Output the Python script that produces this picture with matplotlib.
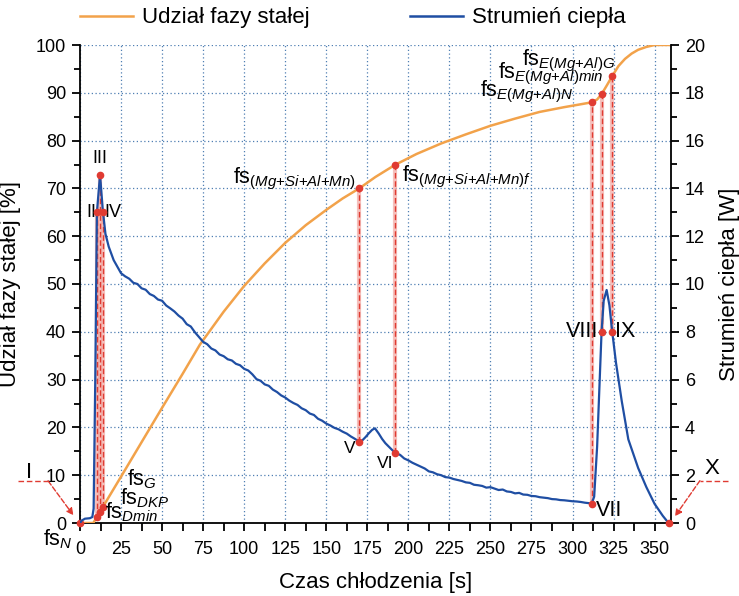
import matplotlib
matplotlib.use("Agg")
import matplotlib.pyplot as plt
from matplotlib.ticker import MultipleLocator
from matplotlib.lines import Line2D

plt.rcParams['font.family'] = ['Liberation Sans', 'DejaVu Sans']
plt.rcParams['mathtext.fontset'] = 'custom'
plt.rcParams['mathtext.rm'] = 'Liberation Sans'
plt.rcParams['mathtext.it'] = 'Liberation Sans:italic'
plt.rcParams['mathtext.sf'] = 'Liberation Sans'

# solid fraction [%] vs cooling time [s]
fs_time = [0, 8.1, 10.3, 12.2, 14.0, 25, 37.5, 50, 62.5, 73, 87.5, 100, 112.5,
           125, 137.5, 150, 160, 170.1, 180, 191.8, 205, 220, 235, 250, 265,
           280, 295, 305, 311.6, 315, 317.7, 321, 324.2, 328, 332, 336, 340,
           345, 350, 360]
fs_pct = [0, 0, 1.3, 2.4, 3.4, 9.7, 16.9, 24.1, 31.2, 37.3, 44.2, 49.6, 54.3,
          58.6, 62.3, 65.5, 67.9, 70.0, 72.4, 74.9, 77.2, 79.4, 81.3, 83.1, 84.6,
          86.0, 87.0, 87.6, 88.0, 88.6, 89.7, 91.6, 93.5, 95.6, 97.1, 98.2, 99.0,
          99.6, 100, 100]

# heat flow [W] vs cooling time [s]
flow_time = [0, 1, 3, 6, 7.5, 8.3, 9.3, 10.3, 12.2, 14.0, 15.5, 17.5, 20.5,
             25, 27.5, 30, 32.5, 35, 37.5, 40, 42.5, 45, 47.5, 50, 52.5, 55, 57.5,
             60, 62.5, 65, 67.5, 70, 72.5, 75, 77.5, 80, 82.5, 85, 87.5, 90, 92.5,
             95, 97.5, 100, 102.5, 105, 107.5, 110, 112.5, 115, 117.5, 120, 122.5,
             125, 127.5, 130, 132.5, 135, 137.5, 140, 142.5, 145, 147.5, 150,
             152.5, 155, 157.5, 160, 162.5, 165, 167.5, 170.1, 172, 174, 176, 178,
             179.7, 182, 184, 186, 188, 190, 191.8, 195, 197.5, 200, 202.5, 205,
             207.5, 210, 212.5, 215, 217.5, 220, 222.5, 225, 227.5, 230, 232.5,
             235, 237.5, 240, 242.5, 245, 247.5, 250, 252.5, 255, 257.5, 260,
             262.5, 265, 267.5, 270, 272.5, 275, 277.5, 280, 282.5, 285, 287.5,
             290, 292.5, 295, 297.5, 300, 302.5, 305, 307.5, 310, 311.6, 313.2,
             315, 316.5, 317.7, 319, 320.8, 322.5, 324.2, 326.5, 330, 334, 340,
             345, 350, 355, 358.5]
flow_w = [0, 0.1, 0.18, 0.2, 0.25, 0.6, 6.0, 13.0, 14.56, 13.0, 12.1, 11.56, 11.0,
          10.45, 10.32, 10.22, 10.05, 10.0, 9.82, 9.76, 9.58, 9.5, 9.35, 9.3, 9.1,
          8.98, 8.85, 8.68, 8.55, 8.32, 8.22, 7.98, 7.78, 7.58, 7.48, 7.3, 7.22,
          7.05, 6.98, 6.85, 6.8, 6.66, 6.6, 6.45, 6.38, 6.22, 6.02, 5.95, 5.8,
          5.74, 5.58, 5.48, 5.34, 5.25, 5.12, 5.02, 4.94, 4.8, 4.72, 4.58, 4.52,
          4.36, 4.28, 4.16, 4.08, 3.98, 3.92, 3.82, 3.74, 3.62, 3.52, 3.4, 3.46,
          3.6, 3.76, 3.9, 3.96, 3.74, 3.52, 3.34, 3.2, 3.06, 2.94, 2.85, 2.7,
          2.62, 2.52, 2.44, 2.36, 2.28, 2.16, 2.12, 2.04, 2.0, 1.92, 1.9, 1.84,
          1.8, 1.76, 1.7, 1.68, 1.6, 1.58, 1.55, 1.48, 1.5, 1.44, 1.38, 1.4,
          1.32, 1.3, 1.24, 1.26, 1.19, 1.18, 1.13, 1.12, 1.08, 1.06, 1.04, 1.0,
          0.99, 0.96, 0.95, 0.93, 0.91, 0.9, 0.88, 0.85, 0.83, 0.8, 1.1, 3.2,
          5.9, 8.0, 9.3, 9.75, 9.1, 8.0, 6.7, 5.1, 3.5, 2.3, 1.5, 0.8, 0.3, 0.0]

# characteristic points: heat-flow point and matching solid fraction
pt_names = ['II', 'III', 'IV', 'V', 'VI', 'VII', 'VIII', 'IX']
pt_time = [10.3, 12.2, 14.0, 170.1, 191.8, 311.6, 317.7, 324.2]
pt_flow = [13.0, 14.56, 13.0, 3.4, 2.94, 0.8, 8.0, 8.0]
pt_fs = [1.3, 2.4, 3.4, 70.0, 74.9, 88.0, 89.7, 93.5]

fs_labels = [r'$\mathrm{fs}_{\mathit{N}}$', r'$\mathrm{fs}_{\mathit{Dmin}}$',
             r'$\mathrm{fs}_{\mathit{DKP}}$', r'$\mathrm{fs}_{\mathit{G}}$',
             r'$\mathrm{fs}_{\mathit{(Mg{+}Si{+}Al{+}Mn)}}$',
             r'$\mathrm{fs}_{\mathit{(Mg{+}Si{+}Al{+}Mn)f}}$',
             r'$\mathrm{fs}_{\mathit{E(Mg{+}Al)N}}$',
             r'$\mathrm{fs}_{\mathit{E(Mg{+}Al)min}}$',
             r'$\mathrm{fs}_{\mathit{E(Mg{+}Al)G}}$']

ORANGE = '#f2a24a'
BLUE = '#1f4ea3'
RED = '#e03b32'
PINK = '#f2a6a0'
GRID = '#4f7fb3'
W2PCT = 100 / 20  # right axis 0-20 W against left axis 0-100 %

fig = plt.figure(figsize=(7.39, 5.96), dpi=100)
ax = fig.add_axes([80 / 739, 1 - 523 / 596, (671 - 80) / 739, (523 - 45) / 596])
ax2 = ax.twinx()

ax.set_xlim(0, 360)
ax.set_ylim(0, 100)
ax2.set_ylim(0, 20)

ax.grid(True, which='major', color=GRID, linestyle=(0, (1, 2)), linewidth=0.9)
ax.set_axisbelow(True)

# dashed verticals linking heat-flow points to solid fraction
for t, w, f in zip(pt_time, pt_flow, pt_fs):
    lo, hi = sorted([w * W2PCT, f])
    ax.vlines(t, lo, hi, color=PINK, linewidth=3.0, alpha=0.7, zorder=2)
    ax.vlines(t, lo, hi, color=RED, linewidth=1.0, linestyle=(0, (4, 2)), zorder=3)

ax.plot(fs_time, fs_pct, color=ORANGE, linewidth=1.8, zorder=4)
ax.plot([0] + pt_time, [0] + pt_fs, linestyle='none', marker='o', markersize=4.5,
        color=RED, zorder=5, clip_on=False)

ax2.plot(flow_time, flow_w, color=BLUE, linewidth=1.6, zorder=4)
ax2.plot(pt_time + [358.5], pt_flow + [0], linestyle='none', marker='o',
         markersize=4.5, color=RED, zorder=5, clip_on=False)

# ticks and spines
ax.xaxis.set_major_locator(MultipleLocator(25))
ax.xaxis.set_minor_locator(MultipleLocator(12.5))
ax.yaxis.set_major_locator(MultipleLocator(10))
ax.yaxis.set_minor_locator(MultipleLocator(5))
ax2.yaxis.set_major_locator(MultipleLocator(2))
ax2.yaxis.set_minor_locator(MultipleLocator(1))
for a in (ax, ax2):
    a.spines['top'].set_visible(False)
    a.tick_params(which='major', direction='out', length=6, width=1.3,
                  labelsize=13, pad=4)
    a.tick_params(which='minor', direction='out', length=4, width=1.3)
ax.tick_params(axis='x', which='major', pad=7)
ax.tick_params(axis='x', which='minor', length=6)
ax2.spines['left'].set_visible(False)
ax2.spines['bottom'].set_visible(False)
for s in ('left', 'bottom'):
    ax.spines[s].set_linewidth(1.3)
ax2.spines['right'].set_linewidth(1.3)
ax.spines['right'].set_visible(False)

ax.set_xlabel('Czas chłodzenia [s]', fontsize=16, labelpad=10)
ax.set_ylabel('Udział fazy stałej [%]', fontsize=16, labelpad=11)
ax2.set_ylabel('Strumień ciepła [W]', fontsize=16, labelpad=10)

# roman numeral labels
ax.text(12.2, 74.5, 'III', fontsize=13, ha='center', va='bottom')
ax.text(9.8, 65, 'II', fontsize=13, ha='right', va='center')
ax.text(15.0, 65, 'IV', fontsize=13, ha='left', va='center')
ax.text(164.6, 15.6, 'V', fontsize=12.5, ha='center', va='center')
ax.text(186, 12.5, 'VI', fontsize=12.5, ha='center', va='center')
ax.text(314.5, 2.7, 'VII', fontsize=15.5, ha='left', va='center')
ax.text(316.0, 40, 'VIII', fontsize=15.5, ha='right', va='center')
ax.text(326.0, 40, 'IX', fontsize=15.5, ha='left', va='center')
ax.text(385, 11.5, 'X', fontsize=16, ha='center', va='center', clip_on=False)
ax.text(-31.3, 10.5, 'I', fontsize=16, ha='center', va='center', clip_on=False)

# leaders for the start and end points
ax.plot([-37.6, -19.4], [8.8, 8.8], color=RED, lw=1.0, ls=(0, (4, 2)), clip_on=False)
ax.annotate('', xy=(-4.0, 1.6), xytext=(-19.4, 8.8), annotation_clip=False,
            arrowprops=dict(arrowstyle='-|>', color=RED, lw=1.0, ls='--',
                            mutation_scale=10, shrinkA=0, shrinkB=0))
ax.plot([394.6, 377.6], [8.85, 8.85], color=RED, lw=1.0, ls=(0, (4, 2)), clip_on=False)
ax.annotate('', xy=(362.4, 1.4), xytext=(377.6, 8.85), annotation_clip=False,
            arrowprops=dict(arrowstyle='-|>', color=RED, lw=1.0, ls='--',
                            mutation_scale=10, shrinkA=0, shrinkB=0))

# solid fraction labels
fs_pos = [(-22.4, -4.6, 'left'), (15.2, 1.0, 'left'), (24.4, 3.8, 'left'),
          (28.4, 7.9, 'left'), (168.0, 71.1, 'right'), (195.9, 71.4, 'left'),
          (243.6, 89.2, 'left'), (254.8, 93.0, 'left'), (269.0, 95.8, 'left')]
for lab, (x, y, ha) in zip(fs_labels, fs_pos):
    ax.text(x, y, lab, fontsize=15.5, ha=ha, va='baseline', clip_on=False, zorder=6)

handles = [Line2D([], [], color=ORANGE, lw=1.8), Line2D([], [], color=BLUE, lw=1.8)]
fig.legend(handles, ['Udział fazy stałej', 'Strumień ciepła'], ncol=2,
           loc='center left', bbox_to_anchor=(80 / 739, 1 - 18 / 596),
           frameon=False, fontsize=16, handlelength=2.4, handletextpad=0.4,
           columnspacing=4.5, borderpad=0, borderaxespad=0)

fig.savefig('out.png', dpi=100)
